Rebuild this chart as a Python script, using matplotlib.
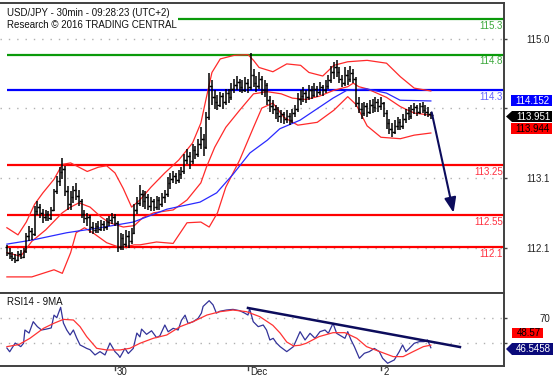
import numpy as np
import matplotlib
matplotlib.use('Agg')
import matplotlib.pyplot as plt
from matplotlib.patches import Rectangle, Polygon

plt.rcParams['font.family'] = ['Liberation Sans', 'DejaVu Sans']

# ---------------- data ----------------
opens = [112.10,112.02,111.97,111.95,111.92,112.00,111.96,112.05,112.25,112.32,
         112.28,112.60,112.66,112.58,112.52,112.56,112.50,112.62,112.88,113.02,
         113.15,113.20,112.88,112.70,112.80,112.90,112.82,112.74,112.56,112.50,
         112.52,112.38,112.34,112.40,112.35,112.42,112.38,112.45,112.48,112.52,
         112.44,112.10,112.22,112.14,112.26,112.18,112.30,112.62,112.72,112.84,
         112.74,112.80,112.68,112.74,112.66,112.76,112.70,112.80,112.84,113.00,
         113.06,113.10,113.04,113.12,113.16,113.32,113.38,113.30,113.46,113.40,
         113.54,113.62,113.50,113.92,114.36,114.20,114.14,114.10,114.22,114.14,
         114.26,114.20,114.32,114.38,114.42,114.34,114.30,114.40,114.34,114.52,
         114.40,114.36,114.46,114.30,114.38,114.16,114.08,114.04,113.98,113.94,
         113.96,113.90,113.94,113.88,113.98,114.04,114.18,114.22,114.26,114.20,
         114.30,114.24,114.32,114.28,114.34,114.30,114.36,114.44,114.56,114.62,
         114.56,114.46,114.40,114.52,114.46,114.54,114.46,114.12,114.04,113.98,
         114.08,114.00,114.10,114.06,114.14,114.08,114.12,113.98,113.84,113.76,
         113.72,113.80,113.86,113.80,113.90,113.98,113.94,114.04,114.06,114.00,
         114.08,114.02,114.00,113.96]
highs = [112.13,112.08,112.03,112.00,112.05,112.06,112.08,112.30,112.40,112.36,
         112.68,112.74,112.70,112.64,112.62,112.60,112.66,112.92,113.10,113.22,
         113.35,113.24,112.96,112.88,112.96,113.00,112.90,112.78,112.62,112.58,
         112.55,112.45,112.44,112.46,112.48,112.47,112.50,112.54,112.58,112.56,
         112.46,112.30,112.28,112.34,112.32,112.36,112.70,112.80,112.97,112.90,
         112.88,112.84,112.80,112.78,112.82,112.80,112.86,112.90,113.08,113.14,
         113.16,113.14,113.18,113.22,113.40,113.48,113.44,113.54,113.52,113.62,
         113.78,113.68,114.00,114.54,114.44,114.30,114.24,114.28,114.26,114.32,
         114.32,114.40,114.46,114.50,114.46,114.44,114.48,114.46,114.83,114.60,
         114.50,114.56,114.50,114.44,114.40,114.22,114.16,114.10,114.06,114.02,
         114.00,114.02,113.98,114.04,114.10,114.26,114.30,114.34,114.30,114.38,
         114.36,114.40,114.36,114.42,114.38,114.44,114.52,114.64,114.70,114.72,
         114.62,114.52,114.62,114.58,114.64,114.60,114.48,114.20,114.12,114.14,
         114.12,114.16,114.18,114.20,114.18,114.20,114.14,114.02,113.90,113.84,
         113.88,113.92,113.90,113.96,114.04,114.06,114.10,114.12,114.10,114.12,
         114.14,114.10,114.06,113.99]
lows  = [111.98,111.93,111.90,111.87,111.90,111.93,111.94,112.02,112.18,112.20,
         112.25,112.55,112.50,112.44,112.46,112.46,112.48,112.60,112.84,112.95,
         113.05,112.82,112.62,112.62,112.72,112.76,112.68,112.50,112.44,112.40,
         112.30,112.28,112.30,112.30,112.32,112.33,112.34,112.40,112.42,112.40,
         112.03,112.06,112.06,112.10,112.08,112.14,112.28,112.56,112.68,112.66,
         112.64,112.62,112.60,112.60,112.62,112.62,112.66,112.72,112.80,112.92,
         113.00,112.98,113.00,113.06,113.12,113.26,113.20,113.26,113.34,113.36,
         113.48,113.38,113.48,113.88,114.10,114.04,114.02,114.06,114.04,114.10,
         114.12,114.16,114.26,114.30,114.28,114.26,114.28,114.26,114.30,114.34,
         114.28,114.32,114.24,114.20,114.10,114.00,113.96,113.90,113.86,113.84,
         113.82,113.84,113.81,113.84,113.92,114.00,114.10,114.14,114.12,114.16,
         114.18,114.20,114.20,114.24,114.22,114.26,114.32,114.40,114.46,114.48,
         114.40,114.34,114.36,114.38,114.42,114.40,114.06,113.98,113.90,113.94,
         113.92,113.96,113.98,114.00,114.00,114.02,113.92,113.76,113.68,113.64,
         113.68,113.74,113.74,113.76,113.84,113.88,113.90,113.96,113.94,113.96,
         113.98,113.94,113.92,113.90]
closes = [112.02,111.97,111.95,111.92,112.00,111.96,112.05,112.25,112.32,112.28,
          112.60,112.66,112.58,112.52,112.56,112.50,112.62,112.88,113.02,113.15,
          113.20,112.88,112.70,112.80,112.90,112.82,112.74,112.56,112.50,112.52,
          112.38,112.34,112.40,112.35,112.42,112.38,112.45,112.48,112.52,112.44,
          112.10,112.22,112.14,112.26,112.18,112.30,112.62,112.72,112.84,112.74,
          112.80,112.68,112.74,112.66,112.76,112.70,112.80,112.84,113.00,113.06,
          113.10,113.04,113.12,113.16,113.32,113.38,113.30,113.46,113.40,113.54,
          113.62,113.50,113.92,114.36,114.20,114.14,114.10,114.22,114.14,114.26,
          114.20,114.32,114.38,114.42,114.34,114.30,114.40,114.34,114.52,114.40,
          114.36,114.46,114.30,114.38,114.16,114.08,114.04,113.98,113.94,113.96,
          113.90,113.94,113.88,113.98,114.04,114.18,114.22,114.26,114.20,114.30,
          114.24,114.32,114.28,114.34,114.30,114.36,114.44,114.56,114.62,114.56,
          114.46,114.40,114.52,114.46,114.54,114.46,114.12,114.04,113.98,114.08,
          114.00,114.10,114.06,114.14,114.08,114.12,113.98,113.84,113.76,113.72,
          113.80,113.86,113.80,113.90,113.98,113.94,114.04,114.06,114.00,114.08,
          114.02,114.00,113.96,113.95]

# Bollinger bands / moving average read as (bar index, value) points
bb_up_x = [0,4,7,10,13,17,20,23,26,29,33,36,39,42,45,48,52,57,62,67,70,72,74,77,82,87,89,91,96,101,106,109,114,118,123,130,137,142,147,153]
bb_up_y = [112.37,112.27,112.45,112.70,112.86,113.05,113.26,113.28,113.22,113.16,113.22,113.24,113.14,112.92,112.66,112.76,112.94,113.14,113.32,113.56,113.84,114.20,114.55,114.74,114.79,114.80,114.72,114.62,114.56,114.67,114.65,114.55,114.50,114.65,114.70,114.72,114.68,114.49,114.33,114.29]
bb_mid_x = [0,5,9,14,20,23,26,30,34,37,42,46,49,53,60,65,70,72,75,79,84,89,94,99,103,108,113,118,123,125,127,130,137,142,147,153]
bb_mid_y = [112.02,111.97,112.18,112.34,112.58,112.66,112.72,112.66,112.52,112.44,112.38,112.40,112.51,112.58,112.62,112.76,113.00,113.22,113.50,113.78,114.02,114.25,114.28,114.25,114.19,114.17,114.22,114.30,114.35,114.40,114.35,114.32,114.20,114.07,113.98,113.95]
bb_lo_x = [0,9,17,20,23,25,28,31,36,41,46,48,54,60,65,70,73,76,79,84,89,92,96,100,105,112,118,123,126,130,135,142,147,153]
bb_lo_y = [111.68,111.68,111.78,111.73,112.02,112.30,112.37,112.30,112.16,112.09,112.13,112.13,112.17,112.15,112.44,112.45,112.38,112.58,112.94,113.32,113.78,114.05,114.12,113.92,113.81,113.85,114.02,114.21,114.10,113.80,113.64,113.62,113.67,113.70]
ma_x = [0,9.5,21.6,33.6,45.6,57.7,69.7,75.7,81.6,87.7,94,98.5,105.8,117.7,122.7,129.8,137,141.9,153]
ma_y = [112.14,112.20,112.30,112.37,112.45,112.63,112.73,112.86,113.12,113.42,113.60,113.76,113.88,114.19,114.30,114.32,114.26,114.16,114.15]

levels = [115.3, 114.8, 114.3, 113.25, 112.55, 112.1]
level_labels = ['115.3', '114.8', '114.3', '113.25', '112.55', '112.1']
level_colors = ['#0a9a0a', '#0a9a0a', '#0000ff', '#ff0000', '#ff0000', '#ff0000']
level_text_colors = ['#3aa83a', '#3aa83a', '#6464ff', '#ff3040', '#ff3040', '#ff3040']

arrow_start = (153.3, 113.99)
arrow_end = (161.2, 112.58)

rsi_x = [0,1,3,5,6,6.5,8,9.5,11,12.5,14,16,17,18,19.4,20.4,21.6,22.8,24,25.2,26.4,27.6,28.8,30,31.8,33.6,35.4,37.2,39,40.2,40.8,42.6,43.8,45.6,46.9,48,48.6,50.4,52.2,54,55.2,57,58.2,60,61.8,63,64.3,65.4,67.2,69,70.2,70.8,73,74.4,75.6,76.8,79.2,81.6,84,85.8,87,87.6,88.9,90.7,92.5,93.7,94.9,96.1,97.3,98.6,101,103.4,105.8,107.6,109.4,111.2,113,114.8,116,117.7,119,120,122,123,124.2,125.4,127.2,129,130.8,132.6,134.4,135.6,137.4,138.6,139.8,141.6,142.8,144,145.2,147,148.8,150.6,151.8,153]
rsi_y = [46.3,43.4,50.2,47.4,50.0,60.4,58.0,66.9,63.0,60.4,61.0,62.0,72.0,70.0,78.1,65.8,60.4,56.5,60.4,54.1,48.7,47.4,46.0,45.0,40.9,43.5,40.9,50.2,43.5,40.9,39.0,46.0,42.0,46.0,58.0,55.0,61.1,57.0,59.8,54.5,55.8,64.3,59.0,61.7,60.4,68.0,72.0,65.5,66.9,69.5,73.6,78.8,83.3,80.0,73.6,75.0,76.0,76.5,75.5,73.6,72.1,77.0,66.9,63.0,64.3,60.4,52.6,53.9,50.2,47.4,43.5,47.4,59.1,52.6,57.8,53.9,59.1,60.4,57.8,65.6,57.8,56.5,53.9,59.1,52.6,47.4,38.3,42.2,43.5,46.0,43.5,38.3,34.4,35.7,37.0,43.5,48.7,43.5,46.0,50.0,51.3,51.3,52.6,46.55]
rsima_x = [0,4.3,8.3,13.2,16.8,20.4,24,26.4,28.8,32.4,36,40.8,44.4,48,52.8,57.7,62.5,67.2,72.2,76.9,81.6,86.5,91.3,96,98.6,101,103.4,105.8,108,112.6,117.7,122,126.3,129.8,134.6,139.4,143,146.6,150.3,153]
rsima_y = [47.4,49.0,53.9,61.7,65.5,68.7,68.2,63.0,55.2,46.1,44.8,44.8,46.1,50.0,53.9,56.5,63.0,66.9,72.1,74.7,76.0,74.7,70.8,64.0,58.0,51.0,48.0,48.5,50.0,55.2,58.3,58.3,53.9,47.4,43.5,39.6,39.6,43.5,47.4,48.57]
rsi_trend_x = [87.0, 163.5]
rsi_trend_y = [77.6, 47.1]

price_ticks = [115.02, 114.05, 113.07, 112.09]
price_tick_labels = ['115.0', '', '113.1', '112.1']   # 114.0 label is hidden behind value boxes
rsi_ticks = [70, 50]
rsi_tick_labels = ['70', '']                          # 50 label is hidden behind value boxes
x_tick_pos = [39, 87, 135]
x_tick_labels = ['30', 'Dec', '2']

# ---------------- layout ----------------
W, H = 558, 378
fig = plt.figure(figsize=(W / 100, H / 100), dpi=100)

def fx(x):
    return x / W

def fy(y):
    return 1 - y / H

ax = fig.add_axes([0, fy(293), fx(504), (293 - 3) / H])
axr = fig.add_axes([0, fy(366), fx(504), (366 - 293) / H], sharex=ax)

XL = (-2.49, 179.4)
ax.set_xlim(*XL)
ax.set_ylim(111.454, 115.525)
axr.set_ylim(32.27, 89.3)

spine_c = '#404040'
for a in (ax, axr):
    a.spines['left'].set_visible(False)
    for s in ('top', 'right', 'bottom'):
        a.spines[s].set_color(spine_c)
        a.spines[s].set_linewidth(1.4)
    a.yaxis.tick_right()
    a.tick_params(axis='y', direction='out', length=2.5, width=1, color=spine_c,
                  labelsize=7, labelcolor='#222222', pad=30.5)
    a.tick_params(axis='x', length=0, labelbottom=False)

ax.set_yticks(price_ticks)
ax.set_yticklabels(price_tick_labels)
axr.set_yticks(rsi_ticks)
axr.set_yticklabels(rsi_tick_labels)
for a in (ax, axr):
    for lab in a.get_yticklabels():
        lab.set_ha('right')

axr.set_xticks([])

# dotted grid
for t in price_ticks:
    ax.axhline(t, color='#b0b0b0', lw=1, ls=(0, (1, 5)), zorder=0)
for t in rsi_ticks:
    axr.axhline(t, color='#b0b0b0', lw=1, ls=(0, (1, 5)), zorder=0)

# level lines and labels
for v, lab, c, tc in zip(levels, level_labels, level_colors, level_text_colors):
    ax.hlines(v, 0, XL[1], color=c, lw=1.6, zorder=1)
    ax.annotate(lab, xy=(1, v), xycoords=ax.get_yaxis_transform(),
                xytext=(-1, -1.2), textcoords='offset points',
                ha='right', va='top', fontsize=7, color=tc, zorder=1)

# bands & MA
ax.plot(bb_up_x, bb_up_y, color='#ff2a2a', lw=0.9, zorder=2)
ax.plot(bb_mid_x, bb_mid_y, color='#ff2a2a', lw=0.9, zorder=2)
ax.plot(bb_lo_x, bb_lo_y, color='#ff2a2a', lw=0.9, zorder=2)
ax.plot(ma_x, ma_y, color='#2a2aff', lw=0.9, zorder=2)

# OHLC bars
idx = np.arange(len(closes))
ax.vlines(idx, lows, highs, color='#000000', lw=1.1, zorder=3)
ax.hlines(opens, idx - 0.6, idx, color='#000000', lw=1.0, zorder=3)
ax.hlines(closes, idx, idx + 0.6, color='#000000', lw=1.0, zorder=3)

# forecast arrow
ax.annotate('', xy=arrow_end, xytext=arrow_start,
            arrowprops=dict(arrowstyle='-|>,head_length=0.9,head_width=0.35',
                            color='#0c0c5c', lw=1.5, shrinkA=0, shrinkB=0), zorder=4)

# RSI panel
axr.plot(rsi_x, rsi_y, color='#333399', lw=0.9, zorder=2)
axr.plot(rsima_x, rsima_y, color='#ff3333', lw=0.9, zorder=2)
axr.plot(rsi_trend_x, rsi_trend_y, color='#0c0c5c', lw=1.8, zorder=3)

# x tick marks + labels (label sits to the right of its tick)
for p, lab in zip(x_tick_pos, x_tick_labels):
    axr.plot([p, p], [0, -0.05], transform=axr.get_xaxis_transform(),
             color=spine_c, lw=1, clip_on=False)
    axr.annotate(lab, xy=(p, 0), xycoords=axr.get_xaxis_transform(),
                 xytext=(1.6, -1.0), textcoords='offset points',
                 ha='left', va='top', fontsize=7, color='#222222',
                 annotation_clip=False)

# titles
fig.text(fx(7), fy(8.5), 'USD/JPY - 30min - 09:28:23 (UTC+2)\nResearch \u00a9 2016 TRADING CENTRAL',
         ha='left', va='top', fontsize=7, color='#111111', linespacing=1.25,
         bbox=dict(facecolor='white', edgecolor='none', pad=1.0), zorder=10)
fig.text(fx(7), fy(302), 'RSI14 - 9MA', ha='left', va='center', fontsize=7, color='#111111')

# value boxes on the right
def box(x0, y0, x1, y1, fc, text, tc, arrow=False):
    if arrow:
        ym = (y0 + y1) / 2
        pts = [(fx(506), fy(ym)), (fx(x0), fy(y0)), (fx(x1), fy(y0)),
               (fx(x1), fy(y1)), (fx(x0), fy(y1))]
        fig.add_artist(Polygon(pts, closed=True, facecolor=fc, edgecolor='none',
                               transform=fig.transFigure, zorder=20))
    else:
        fig.add_artist(Rectangle((fx(x0), fy(y1)), fx(x1) - fx(x0), fy(y0) - fy(y1),
                                 facecolor=fc, edgecolor='none',
                                 transform=fig.transFigure, zorder=20))
    fig.text(fx((x0 + x1) / 2 + 1), fy((y0 + y1) / 2), text, ha='center', va='center',
             fontsize=7, color=tc, zorder=21)

box(511, 95, 552, 106, '#0000ff', '114.152', 'white')
box(512, 111, 552, 122, '#000000', '113.951', 'white', arrow=True)
box(511, 123, 552, 134, '#ff0000', '113.944', 'black')
box(512, 328, 543, 338, '#ff0000', '48.57', 'black')
box(512, 343, 553, 355, '#0a0a7a', '46.5458', 'white', arrow=True)

fig.savefig('out.png', dpi=100)
